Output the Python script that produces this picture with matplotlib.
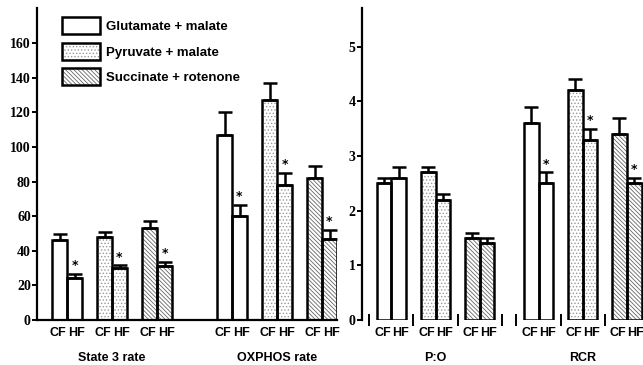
import matplotlib.pyplot as plt
from matplotlib.patches import Patch

substrates = ['Glutamate + malate', 'Pyruvate + malate', 'Succinate + rotenone']
diets = ['CF', 'HF']

# values per substrate: [CF, HF]
state3 = [[46, 24], [48, 30], [53, 31]]
state3_err = [[3.5, 2.5], [3, 1.5], [4, 2.5]]
oxphos = [[107, 60], [127, 78], [82, 47]]
oxphos_err = [[13, 6.5], [10, 7], [7, 5]]
po = [[2.5, 2.6], [2.7, 2.2], [1.5, 1.4]]
po_err = [[0.1, 0.2], [0.1, 0.1], [0.1, 0.1]]
rcr = [[3.6, 2.5], [4.2, 3.3], [3.4, 2.5]]
rcr_err = [[0.3, 0.2], [0.2, 0.2], [0.3, 0.1]]
# HF significantly different from CF
state3_sig = [True, True, True]
oxphos_sig = [True, True, True]
po_sig = [False, False, False]
rcr_sig = [True, True, True]

# (hatch, hatch colour) for each substrate
styles = [('', 'white'), ('.....', '#9a9a9a'), ('\\\\\\\\\\\\\\\\', '#666666')]

plt.rcParams['hatch.linewidth'] = 0.6
sans = {'family': 'Liberation Sans', 'weight': 'bold', 'size': 9}
serif = {'family': 'Liberation Serif', 'weight': 'bold', 'size': 10}

W, H = 643, 365
fig = plt.figure(figsize=(W / 100, H / 100), dpi=100)
ax1 = fig.add_axes([37 / W, 45 / H, 300 / W, 311.6 / H])
ax2 = fig.add_axes([362 / W, 45 / H, 281 / W, 311.6 / H])


def draw_metric(ax, start, vals, errs, sig, label, star_off):
    for i in range(3):
        c = start + 3 * i
        xs = [c - 0.5, c + 0.5]
        hatch, hc = styles[i]
        ax.bar(xs, vals[i], width=1, color='white', edgecolor=hc,
               hatch=hatch, linewidth=0, zorder=2)
        ax.bar(xs, vals[i], width=1, fill=False, edgecolor='black',
               linewidth=1.8, zorder=3)
        ax.errorbar(xs, vals[i], yerr=[[0, 0], errs[i]], fmt='none',
                    ecolor='black', elinewidth=1.8, capsize=5.3,
                    capthick=1.8, zorder=4)
        if sig[i]:
            ax.text(xs[1], vals[i][1] + errs[i][1] + star_off, '*',
                    ha='center', va='bottom', fontsize=9, fontweight='bold')
        for x, d, dx in zip(xs, diets, [-1.2, 1.2]):
            ax.annotate(d, xy=(x, 0), xycoords=('data', 'axes fraction'),
                        xytext=(dx, -9.5), textcoords='offset points',
                        ha='center', va='center', **sans)
    ax.annotate(label, xy=(start + 3, 0), xycoords=('data', 'axes fraction'),
                xytext=(0, -27.5), textcoords='offset points',
                ha='center', va='center', **sans)
    return [start + 3 * i + d for i in range(3) for d in (-0.5, 0.5)]


t1 = draw_metric(ax1, 2, state3, state3_err, state3_sig, 'State 3 rate', 1.0)
t1 += draw_metric(ax1, 13, oxphos, oxphos_err, oxphos_sig, 'OXPHOS rate', 1.0)
t2 = draw_metric(ax2, 2, po, po_err, po_sig, 'P:O', 0.03)
t2 += draw_metric(ax2, 12, rcr, rcr_err, rcr_sig, 'RCR', 0.03)

ax1.set_xlim(0, 20.0)
ax1.set_ylim(0, 180)
ax1.set_yticks(range(0, 161, 20))
ax2.set_xlim(0, 19.1)
ax2.set_ylim(0, 5.7)
ax2.set_yticks(range(0, 6))

for ax, t in [(ax1, t1), (ax2, t2)]:
    ax.set_xticks(t)
    ax.set_xticklabels([])
    ax.set_yticklabels([str(int(v)) for v in ax.get_yticks()], **serif)
    for s in ['top', 'right']:
        ax.spines[s].set_visible(False)
    ax.spines['left'].set_linewidth(1.6)
    ax.spines['bottom'].set_linewidth(1.6)
    ax.tick_params(axis='y', direction='out', length=3.5, width=1.4, pad=1)

ax1.tick_params(axis='x', length=0)
ax2.spines['bottom'].set_visible(False)
ax2.tick_params(axis='x', direction='in', length=4, width=1.2)
ax2.set_xticks([0.5, 3.5, 6.5, 9.5, 10.5, 13.5, 16.5], minor=True)
ax2.tick_params(axis='x', which='minor', direction='inout', length=8, width=1.4)

handles = []
for hatch, hc in styles:
    handles.append((Patch(facecolor='white', edgecolor=hc, hatch=hatch, linewidth=0),
                    Patch(fill=False, edgecolor='black', linewidth=1.8)))
ax1.legend(handles, substrates, loc='upper left', bbox_to_anchor=(0.083, 0.972),
           frameon=False, borderpad=0, borderaxespad=0, handlelength=2.85,
           handleheight=1.6, labelspacing=0.66, handletextpad=0.5,
           prop=dict(sans, size=9.5))

fig.savefig('out.png', dpi=100)
